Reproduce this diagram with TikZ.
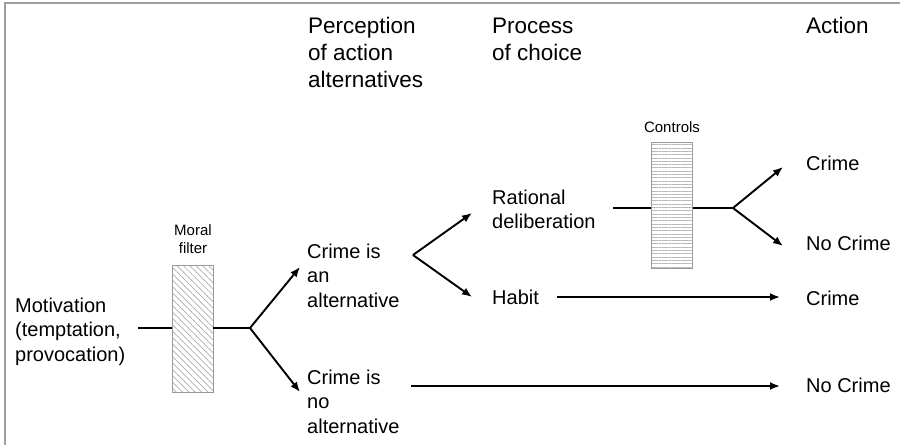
\documentclass[tikz,border=0pt]{standalone}
\usepackage{fontspec}
\setmainfont{Liberation Sans}
\usetikzlibrary{arrows.meta}
\usetikzlibrary{patterns.meta}
\tikzset{
  stage_text/.style = {align=left, inner sep=0pt, anchor=base west,
    font=\fontsize{20}{24.5}\selectfont},% texte des etapes (base = derniere ligne)
  head_text/.style = {stage_text, font=\fontsize{22.5}{27}\selectfont},% titres de colonnes
  small_text/.style = {align=center, inner sep=0pt, anchor=base,
    font=\fontsize{15}{18}\selectfont},% etiquettes des filtres
  filter_box/.style = {rectangle, draw=gray!80, line width=1pt,
    minimum width=41pt, minimum height=127pt, inner sep=0pt},% filtre
  flow/.style = {line width=1.9pt, black},
  flow_arrow/.style = {flow, -{Latex[length=10pt,width=8pt]}},
  frame_line/.style = {draw=gray!75, line width=1.8pt}
}

\begin{document}
\begin{tikzpicture}[x=1pt, y=-1pt]
  \useasboundingbox (0,0) rectangle (900,445);
  \draw [frame_line] (5,445) -- (5,3) -- (900,3);
  % titres
  \node [head_text] (perc_head) at (308,87) {Perception\\of action\\alternatives};
  \node [head_text] (proc_head) at (492,60) {Process\\of choice};
  \node [head_text] (act_head) at (806,33) {Action};
  % etapes
  \node [stage_text] (motiv) at (15,361) {Motivation\\(temptation,\\provocation)};
  \node [small_text] (moral_lbl) at (193,253) {Moral\\filter};
  \node [filter_box, pattern={Lines[angle=-45,distance=4.5pt,line width=0.7pt]},
    pattern color=gray!65] (moral) at (192.5,328.5) {};
  \node [stage_text] (alt_yes) at (307,307) {Crime is\\an\\alternative};
  \node [stage_text] (alt_no) at (307,433) {Crime is\\no\\alternative};
  \node [stage_text] (rational) at (492,228.5) {Rational\\deliberation};
  \node [stage_text] (habit) at (492,304) {Habit};
  \node [small_text] (ctrl_lbl) at (672,132) {Controls};
  \node [filter_box, minimum height=126pt,
    pattern={Lines[angle=0,distance=3.3pt,line width=0.6pt]},
    pattern color=gray!55] (controls) at (672,205) {};
  \node [stage_text] (act_crime1) at (806,170) {Crime};
  \node [stage_text] (act_nocrime1) at (806,250) {No Crime};
  \node [stage_text] (act_crime2) at (806,305) {Crime};
  \node [stage_text] (act_nocrime2) at (806,392) {No Crime};
  % points de branchement
  \coordinate (motiv_out) at (138,328);
  \coordinate (fork_moral) at (250,328);
  \coordinate (tip_yes) at (300,267);
  \coordinate (tip_no) at (300,392);
  \coordinate (fork_alt) at (413,255);
  \coordinate (tip_rational) at (472,213);
  \coordinate (tip_habit) at (472,297);
  \coordinate (rational_out) at (613,208);
  \coordinate (fork_ctrl) at (733,208);
  \coordinate (tip_crime1) at (783,167);
  \coordinate (tip_nocrime1) at (783,246);
  \coordinate (habit_out) at (557,297);
  \coordinate (tip_crime2) at (780,297);
  \coordinate (no_alt_out) at (411,386);
  \coordinate (tip_nocrime2) at (780,386);
  % fleches
  \draw [flow] (motiv_out) -- (moral.west |- motiv_out);
  \draw [flow] (moral.east |- fork_moral) -- (fork_moral);
  \draw [flow_arrow] (fork_moral) -- (tip_yes);
  \draw [flow_arrow] (fork_moral) -- (tip_no);
  \draw [flow_arrow] (fork_alt) -- (tip_rational);
  \draw [flow_arrow] (fork_alt) -- (tip_habit);
  \draw [flow] (rational_out) -- (controls.west |- rational_out);
  \draw [flow] (controls.east |- fork_ctrl) -- (fork_ctrl);
  \draw [flow_arrow] (fork_ctrl) -- (tip_crime1);
  \draw [flow_arrow] (fork_ctrl) -- (tip_nocrime1);
  \draw [flow_arrow] (habit_out) -- (tip_crime2);
  \draw [flow_arrow] (no_alt_out) -- (tip_nocrime2);
\end{tikzpicture}
\end{document}
